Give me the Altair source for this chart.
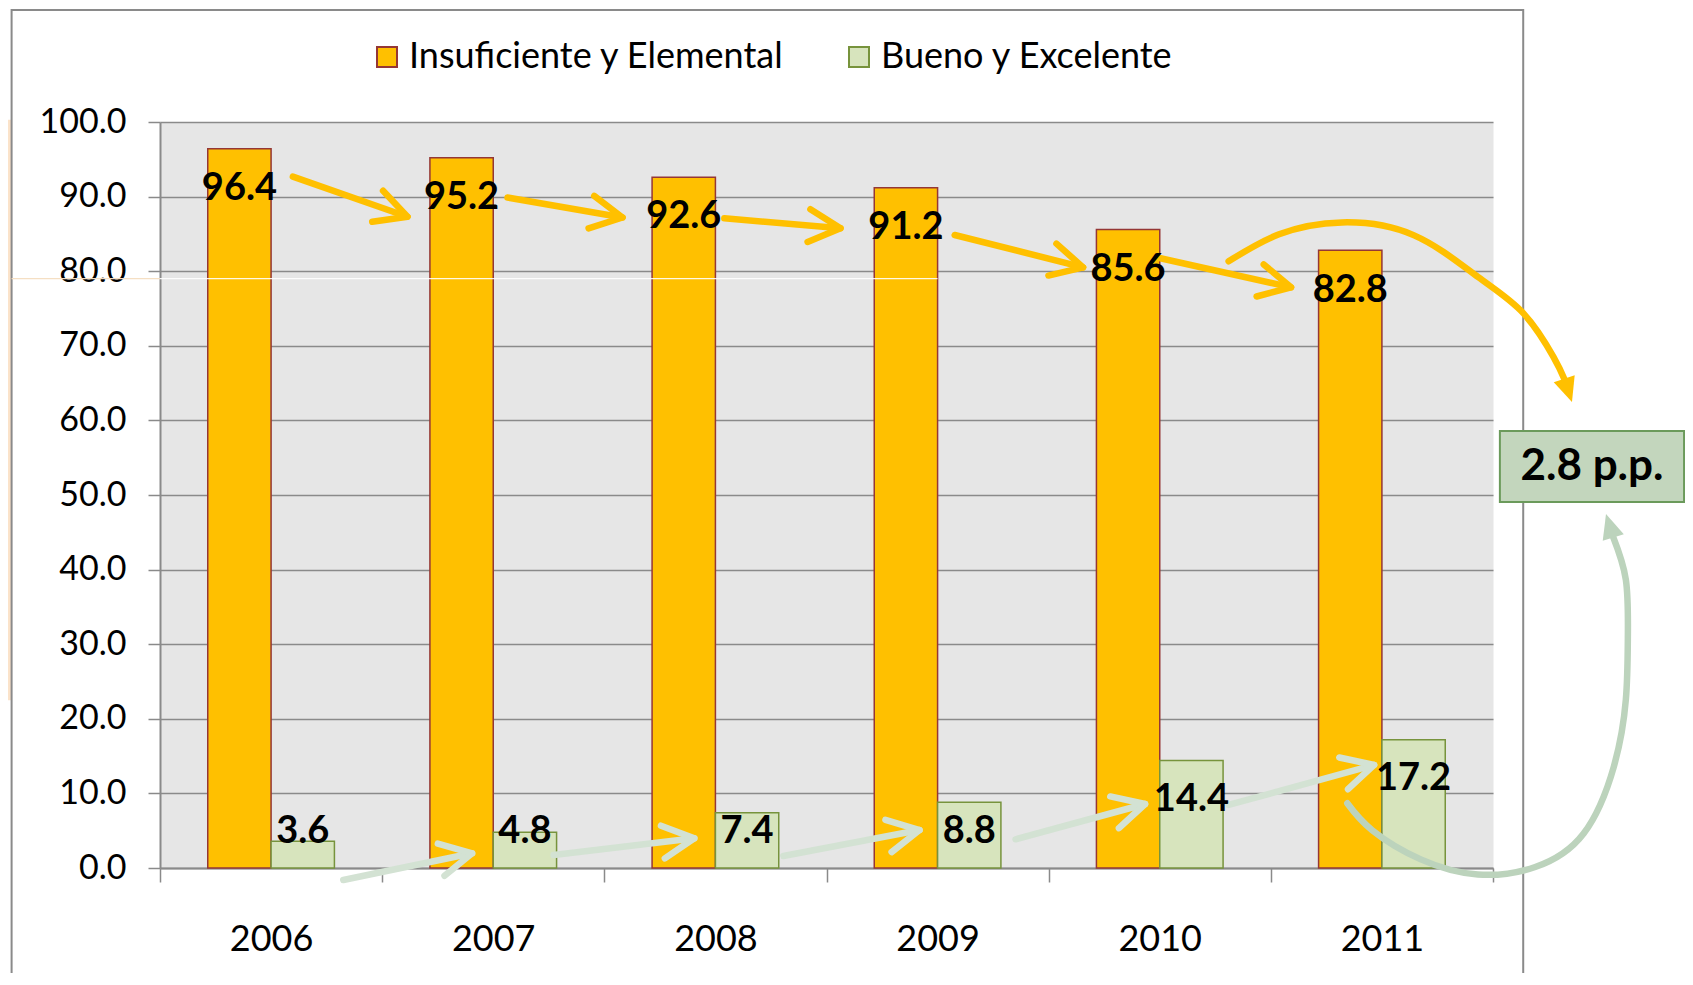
import math
import altair as alt
import pandas as pd

# ---------------- data ----------------
years = ["2006", "2007", "2008", "2009", "2010", "2011"]
insuficiente = [96.4, 95.2, 92.6, 91.2, 85.6, 82.8]
bueno = [3.6, 4.8, 7.4, 8.8, 14.4, 17.2]
series = ["Insuficiente y Elemental", "Bueno y Excelente"]
fill_colors = ["#FFC000", "#D7E4BD"]
stroke_colors = ["#953735", "#77933C"]
y_ticks = [0, 10, 20, 30, 40, 50, 60, 70, 80, 90, 100]
box_text = "2.8 p.p."

# annotation geometry, in (category index, value) units
or_x0 = [0.598, 1.564, 2.540, 3.577, 4.503]
or_y0 = [92.67, 89.87, 87.09, 84.85, 81.73]
or_x1 = [1.114, 2.082, 3.063, 4.155, 5.091]
or_y1 = [87.30, 87.20, 85.75, 80.52, 77.84]

gr_x0 = [0.825, 1.772, 2.806, 3.851, 4.810]
gr_y0 = [-1.61, 1.74, 1.61, 3.85, 8.45]
gr_x1 = [1.405, 2.405, 3.419, 4.434, 5.465]
gr_y1 = [1.97, 3.98, 5.09, 8.58, 13.81]

oc_x = [4.810, 5.037, 5.320, 5.645, 5.932, 6.136, 6.272, 6.321]
oc_y = [81.33, 84.95, 86.54, 84.80, 79.23, 74.38, 68.52, 65.56]
oc_tip = (6.355, 62.52)

gc_x = [5.344, 5.456, 5.675, 5.932, 6.190, 6.408, 6.544, 6.598, 6.607, 6.598, 6.540]
gc_y = [8.68, 5.07, 1.16, -0.87, 0.14, 4.63, 13.60, 22.58, 30.97, 38.64, 44.43]
gc_tip = (6.510, 47.32)

box_x = [6.031, 6.860]
box_y = [49.06, 58.58]
frame_x = [-0.668, 6.136]
frame_y = [-30.0, 115.0]

# ---------------- layout ----------------
W, H = 1333, 746
PX_X = W / 6.0
PX_Y = H / 100.0
ORANGE = "#FFC000"
GREEN_LIGHT = "#D3E2D3"
GREEN_CURVE = "#BCD3BC"
FONT = "Lato"
GRAY = "#8A8A8A"

CHEVRON = "M-1,-0.52L0,0L-1,0.52"
TRIANGLE = "M1,0L-1,-0.9L-1,0.9Z"


def angle(x0, y0, x1, y1):
    dx = (x1 - x0) * PX_X
    dy = -(y1 - y0) * PX_Y
    return math.degrees(math.atan2(dy, dx)) % 360


bars_df = pd.DataFrame(
    {
        "year": years * 2,
        "serie": [series[0]] * 6 + [series[1]] * 6,
        "value": insuficiente + bueno,
    }
)

xq = alt.Scale(domain=[0, 6], nice=False, zero=False)
yq = alt.Scale(domain=[0, 100], nice=False, zero=False)
x_band_scale = alt.Scale(domain=years, paddingInner=0, paddingOuter=0)
x_off_scale = alt.Scale(domain=series, paddingInner=0, paddingOuter=0.754)

legend = alt.Legend(
    title=None,
    orient="none",
    legendX=209,
    legendY=-83,
    direction="horizontal",
    symbolType="square",
    symbolSize=400,
    symbolStrokeWidth=2,
    labelFont=FONT,
    labelFontSize=36,
    labelColor="black",
    labelOffset=4,
    labelLimit=1000,
    columnPadding=56,
    padding=0,
)

x_band = alt.X(
    "year:N",
    sort=years,
    scale=x_band_scale,
    axis=alt.Axis(
        title=None,
        labelFont=FONT,
        labelFontSize=36,
        labelColor="black",
        labelAngle=0,
        labelPadding=57,
        labelBaseline="middle",
        tickBand="extent",
        tickSize=14,
        tickColor=GRAY,
        tickWidth=1.5,
        domainColor=GRAY,
        domainWidth=2,
        grid=False,
    ),
)
x_off = alt.XOffset("serie:N", sort=series, scale=x_off_scale)

bars = alt.Chart(bars_df).mark_bar(strokeWidth=1.5).encode(
    x=x_band,
    xOffset=x_off,
    y=alt.Y(
        "value:Q",
        scale=yq,
        axis=alt.Axis(
            title=None,
            values=y_ticks,
            format=".1f",
            labelFont=FONT,
            labelFontSize=34,
            labelColor="black",
            labelPadding=22,
            tickSize=12,
            tickColor=GRAY,
            tickWidth=1.5,
            domainColor=GRAY,
            domainWidth=2,
            gridColor=GRAY,
            gridWidth=1.6,
        ),
    ),
    fill=alt.Fill("serie:N", scale=alt.Scale(domain=series, range=fill_colors), legend=legend),
    stroke=alt.Stroke("serie:N", scale=alt.Scale(domain=series, range=stroke_colors), legend=legend),
)

labels = (
    alt.Chart(bars_df)
    .transform_calculate(
        ly="datum.serie == 'Bueno y Excelente' ? max(datum.value - 5.3, 4.8) : datum.value - 5.4"
    )
    .mark_text(font=FONT, fontWeight="bold", fontSize=38, baseline="middle", align="center", color="black")
    .encode(
        x=alt.X("year:N", sort=years, scale=x_band_scale, axis=None),
        xOffset=x_off,
        y=alt.Y("ly:Q", scale=yq, axis=None),
        text=alt.Text("value:Q", format=".1f"),
    )
)

# ---------- annotations (quantitative x) ----------
deco_df = pd.DataFrame({"x0": [frame_x[0]], "x1": [0.0], "x2": [3.5], "y": [79.0]})
peach = alt.Chart(pd.DataFrame({"x": [-0.7], "x2": [frame_x[0]], "y": [22.5], "y2": [100.3]})).mark_rect(
    fill="#FBE3CA", strokeWidth=0
).encode(x=alt.X("x:Q", scale=xq, axis=None), x2="x2:Q", y=alt.Y("y:Q", scale=yq, axis=None), y2="y2:Q")
frame = alt.Chart(pd.DataFrame({"x": [frame_x[0]], "x2": [frame_x[1]], "y": [frame_y[0]], "y2": [frame_y[1]]})).mark_rect(
    fillOpacity=0, stroke=GRAY, strokeWidth=2
).encode(x=alt.X("x:Q", scale=xq, axis=None), x2="x2:Q", y=alt.Y("y:Q", scale=yq, axis=None), y2="y2:Q")
faint1 = alt.Chart(deco_df).mark_rule(color="#F5DFC3", strokeWidth=1.2).encode(
    x=alt.X("x0:Q", scale=xq, axis=None), x2="x1:Q", y=alt.Y("y:Q", scale=yq, axis=None)
)
faint2 = alt.Chart(deco_df).mark_rule(color="#FFFFFF", strokeWidth=1.2, opacity=0.9).encode(
    x=alt.X("x1:Q", scale=xq, axis=None), x2="x2:Q", y=alt.Y("y:Q", scale=yq, axis=None)
)


def straight_arrows(x0, y0, x1, y1, color):
    df = pd.DataFrame({"x0": x0, "y0": y0, "x1": x1, "y1": y1})
    df["ang"] = [angle(a, b, c, d) for a, b, c, d in zip(x0, y0, x1, y1)]
    shaft = alt.Chart(df).mark_rule(color=color, strokeWidth=6.5, strokeCap="round").encode(
        x=alt.X("x0:Q", scale=xq, axis=None),
        y=alt.Y("y0:Q", scale=yq, axis=None),
        x2="x1:Q",
        y2="y1:Q",
    )
    head = alt.Chart(df).mark_point(
        shape=CHEVRON, filled=False, strokeWidth=6.5, strokeCap="round", strokeJoin="round", opacity=1
    ).encode(
        x=alt.X("x1:Q", scale=xq, axis=None),
        y=alt.Y("y1:Q", scale=yq, axis=None),
        angle=alt.Angle("ang:Q", scale=None),
        size=alt.value(4000),
        color=alt.value(color),
    )
    return [shaft, head]


def curved_arrow(xs, ys, tip, color):
    df = pd.DataFrame({"x": xs, "y": ys, "i": list(range(len(xs)))})
    line = alt.Chart(df).mark_line(
        interpolate="natural", strokeWidth=6.5, strokeCap="round", color=color
    ).encode(
        x=alt.X("x:Q", scale=xq, axis=None),
        y=alt.Y("y:Q", scale=yq, axis=None),
        order="i:Q",
    )
    bx, by = xs[-1], ys[-1]
    hdf = pd.DataFrame(
        {"x": [(bx + tip[0]) / 2], "y": [(by + tip[1]) / 2], "ang": [angle(bx, by, tip[0], tip[1])]}
    )
    head = alt.Chart(hdf).mark_point(shape=TRIANGLE, filled=True, opacity=1, strokeWidth=0).encode(
        x=alt.X("x:Q", scale=xq, axis=None),
        y=alt.Y("y:Q", scale=yq, axis=None),
        angle=alt.Angle("ang:Q", scale=None),
        size=alt.value(600),
        color=alt.value(color),
    )
    return [line, head]


box_df = pd.DataFrame(
    {"x": [box_x[0]], "x2": [box_x[1]], "y": [box_y[0]], "y2": [box_y[1]],
     "cx": [(box_x[0] + box_x[1]) / 2], "cy": [(box_y[0] + box_y[1]) / 2], "t": [box_text]}
)
box = alt.Chart(box_df).mark_rect(fill="#C3D6BD", stroke="#6B9A5B", strokeWidth=2).encode(
    x=alt.X("x:Q", scale=xq, axis=None), x2="x2:Q", y=alt.Y("y:Q", scale=yq, axis=None), y2="y2:Q"
)
box_label = alt.Chart(box_df).mark_text(
    font=FONT, fontWeight="bold", fontSize=44, baseline="middle", align="center", color="black"
).encode(x=alt.X("cx:Q", scale=xq, axis=None), y=alt.Y("cy:Q", scale=yq, axis=None), text="t:N")

annot_layers = (
    [peach, frame]
    + straight_arrows(or_x0, or_y0, or_x1, or_y1, ORANGE)
    + straight_arrows(gr_x0, gr_y0, gr_x1, gr_y1, GREEN_LIGHT)
    + curved_arrow(oc_x, oc_y, oc_tip, ORANGE)
    + curved_arrow(gc_x, gc_y, gc_tip, GREEN_CURVE)
    + [box, box_label, faint1, faint2]
)

chart = (
    alt.layer(bars, *annot_layers, labels)
    .resolve_scale(x="independent")
    .resolve_axis(y="independent")
    .properties(
        width=W,
        height=H,
        padding={"left": 152, "top": 114, "right": 192, "bottom": 105},
        autosize=alt.AutoSizeParams(type="none"),
        background="white",
    )
    .configure_view(fill="#E6E6E6", stroke="transparent")
)

chart.save("out.html", embed_options={"renderer": "svg", "actions": False})
